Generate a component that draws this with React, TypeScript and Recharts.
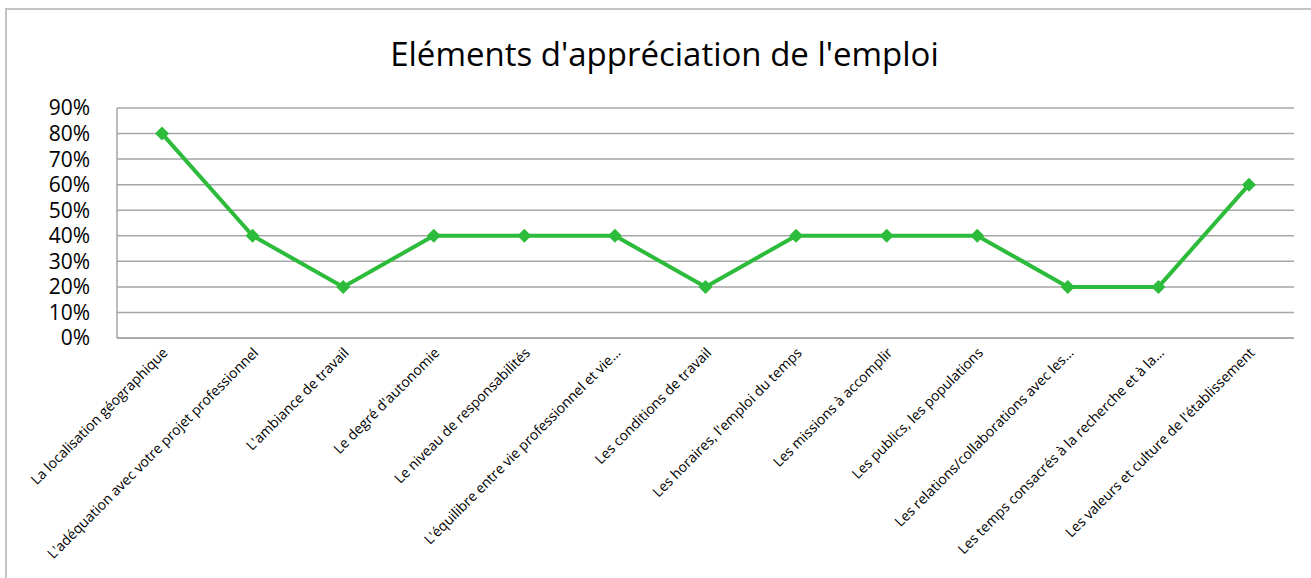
import React from "react";
import { LineChart, Line, XAxis, YAxis, CartesianGrid } from "recharts";

const categories = [
  "La localisation géographique",
  "L'adéquation avec votre projet professionnel",
  "L'ambiance de travail",
  "Le degré d'autonomie",
  "Le niveau de responsabilités",
  "L'équilibre entre vie professionnel et vie…",
  "Les conditions de travail",
  "Les horaires, l'emploi du temps",
  "Les missions à accomplir",
  "Les publics, les populations",
  "Les relations/collaborations avec les…",
  "Les temps consacrés à la recherche et à la…",
  "Les valeurs et culture de l'établissement",
];
const values = [0.8, 0.4, 0.2, 0.4, 0.4, 0.4, 0.2, 0.4, 0.4, 0.4, 0.2, 0.2, 0.6];
const yTicks = [0, 0.1, 0.2, 0.3, 0.4, 0.5, 0.6, 0.7, 0.8, 0.9];
const title = "Eléments d'appréciation de l'emploi";

const data = categories.map((c, i) => ({ name: c, value: values[i] }));

const FONT = "'Open Sans', sans-serif";
const GREEN = "#2dbb3b";
const GRID = "#a6a6a6";

const XTick = (props: any) => {
  const { x, y, payload } = props;
  const tx = x + 4;
  const ty = y + 5;
  return (
    <text
      x={tx}
      y={ty}
      transform={`rotate(-45, ${tx}, ${ty})`}
      textAnchor="end"
      dominantBaseline="middle"
      fontFamily={FONT}
      fontSize={14}
      fill="#000"
    >
      {payload.value}
    </text>
  );
};

const Diamond = (props: any) => {
  const { cx, cy } = props;
  if (cx == null || cy == null) return null;
  const r = 7;
  return (
    <path
      d={`M${cx},${cy - r}L${cx + r},${cy}L${cx},${cy + r}L${cx - r},${cy}Z`}
      fill={GREEN}
      stroke="none"
    />
  );
};

export default function App() {
  return (
    <div style={{ position: "fixed", left: 0, top: 0, width: 1311, height: 578, overflow: "hidden", background: "#fff" }}>
      <div
        style={{
          position: "absolute",
          left: 5,
          top: 8,
          width: 1340,
          height: 600,
          border: "2px solid #c4c4c4",
          boxSizing: "border-box",
        }}
      />
      <div
        style={{
          position: "absolute",
          left: 0,
          top: 32,
          width: 1329,
          textAlign: "center",
          fontFamily: FONT,
          fontSize: 33,
          color: "#000",
          lineHeight: "44px",
        }}
      >
        {title}
      </div>
      <div style={{ position: "absolute", left: 0, top: 0 }}>
        <LineChart
          width={1311}
          height={578}
          data={data}
          margin={{ top: 108, right: 17, bottom: 0, left: 0 }}
        >
          <CartesianGrid vertical={false} stroke={GRID} strokeWidth={1.5} />
          <XAxis
            dataKey="name"
            interval={0}
            padding={{ left: 45, right: 45 }}
            axisLine={{ stroke: GRID, strokeWidth: 1.5 }}
            tickLine={false}
            tick={<XTick />}
            height={240}
          />
          <YAxis
            domain={[0, 0.9]}
            ticks={yTicks}
            interval={0}
            width={117}
            axisLine={{ stroke: GRID, strokeWidth: 1.5 }}
            tickLine={false}
            tickSize={0}
            tickMargin={27}
            tickFormatter={(v: number) => `${Math.round(v * 100)}%`}
            tick={{ fontFamily: FONT, fontSize: 21, fill: "#000" }}
          />
          <Line
            type="linear"
            dataKey="value"
            stroke={GREEN}
            strokeWidth={4}
            dot={<Diamond />}
            activeDot={false}
            isAnimationActive={false}
          />
        </LineChart>
      </div>
    </div>
  );
}
